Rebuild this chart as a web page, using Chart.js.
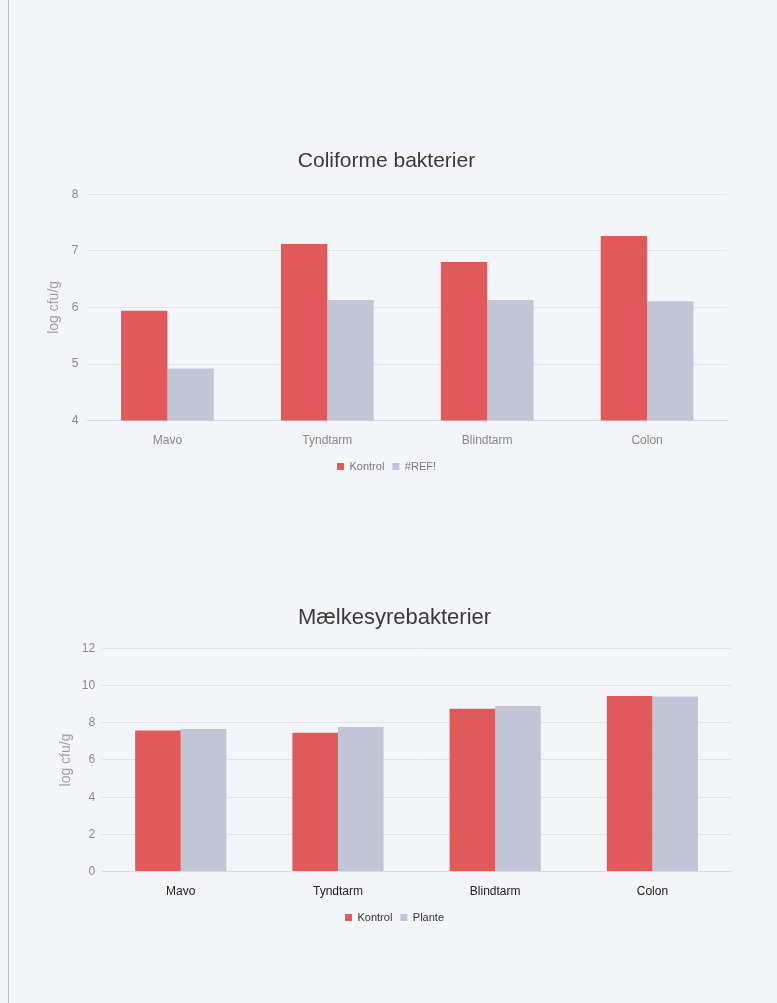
<!DOCTYPE html>
<html>
<head>
<meta charset="utf-8">
<script src="https://cdn.jsdelivr.net/npm/chart.js@4.4.1/dist/chart.umd.min.js"></script>
<style>
  html, body { margin: 0; padding: 0; }
  body { width: 777px; height: 1003px; background: #f4f5f8; position: relative; overflow: hidden; font-family: "Liberation Sans", Arial, sans-serif; }
  .edge { position: absolute; left: 8px; top: 0; width: 1px; height: 1003px; background: #b8bcc6; }
  .box { position: absolute; }
  #box1 { left: 30px; top: 140px; width: 707px; height: 350px; }
  #box2 { left: 40px; top: 596px; width: 701px; height: 345px; }
</style>
</head>
<body>
<div class="edge"></div>
<div class="box" id="box1"><canvas id="coliChart"></canvas></div>
<div class="box" id="box2"><canvas id="lactoChart"></canvas></div>
<script>
const CATEGORIES = ['Mavo', 'Tyndtarm', 'Blindtarm', 'Colon'];

// Coliforme bakterier
const coliKontrol = [5.94, 7.12, 6.80, 7.26];
const coliRef = [4.92, 6.13, 6.13, 6.11];
const coliTicks = [4, 5, 6, 7, 8];

// Mælkesyrebakterier
const lactoKontrol = [7.58, 7.47, 8.76, 9.44];
const lactoPlante = [7.66, 7.78, 8.90, 9.42];
const lactoTicks = [0, 2, 4, 6, 8, 10, 12];

const red = '#e05a5c';
const lavender = '#c2c5d6';
const fontFam = '"Liberation Sans", Arial, sans-serif';

function makeChart(id, title, labelA, dataA, labelB, dataB, ticks, opts) {
  const ctx = document.getElementById(id).getContext('2d');
  return new Chart(ctx, {
    type: 'bar',
    data: {
      labels: CATEGORIES,
      datasets: [{
        label: labelA,
        data: dataA,
        backgroundColor: red,
        categoryPercentage: 0.58,
        barPercentage: 1.0,
      }, {
        label: labelB,
        data: dataB,
        backgroundColor: lavender,
        categoryPercentage: 0.58,
        barPercentage: 1.0,
      }],
    },
    options: {
      responsive: true,
      maintainAspectRatio: false,
      animation: false,
      layout: { padding: opts.padding },
      plugins: {
        title: {
          display: true,
          text: title,
          color: '#3a3a3a',
          font: { family: fontFam, size: opts.titleSize, weight: 'normal' },
          padding: opts.titlePad,
        },
        legend: {
          position: 'bottom',
          labels: {
            boxWidth: 7,
            boxHeight: 7,
            padding: 8,
            color: opts.legendColor,
            font: { family: fontFam, size: 11 },
          },
        },
        tooltip: { enabled: false },
      },
      scales: {
        x: {
          grid: { display: false },
          border: { color: '#d8dbe2' },
          ticks: { color: opts.xColor, font: { family: fontFam, size: 12 }, padding: 5 },
        },
        y: {
          min: ticks[0],
          max: ticks[ticks.length - 1],
          afterBuildTicks: (axis) => { axis.ticks = ticks.map(v => ({ value: v })); },
          grid: { color: '#e1e3e9', drawTicks: false },
          border: { display: false },
          ticks: { color: '#8a8a8a', font: { family: fontFam, size: 12 }, padding: opts.tickPad },
          title: {
            display: true,
            text: 'log cfu/g',
            color: '#a0a0a0',
            font: { family: fontFam, size: 14 },
            padding: 0,
          },
        },
      },
    },
  });
}

makeChart('coliChart', 'Coliforme bakterier', 'Kontrol', coliKontrol, '#REF!', coliRef, coliTicks,
  { padding: { left: 16, right: 10, top: 5, bottom: 8 }, titlePad: { top: 4, bottom: 20 }, titleSize: 21, legendColor: '#777', xColor: '#888', tickPad: 9 });

makeChart('lactoChart', 'Mælkesyrebakterier', 'Kontrol', lactoKontrol, 'Plante', lactoPlante, lactoTicks,
  { padding: { left: 18, right: 10, top: 5, bottom: 8 }, titlePad: { top: 4, bottom: 17 }, titleSize: 22, legendColor: '#333', xColor: '#222', tickPad: 7 });
</script>
</body>
</html>
